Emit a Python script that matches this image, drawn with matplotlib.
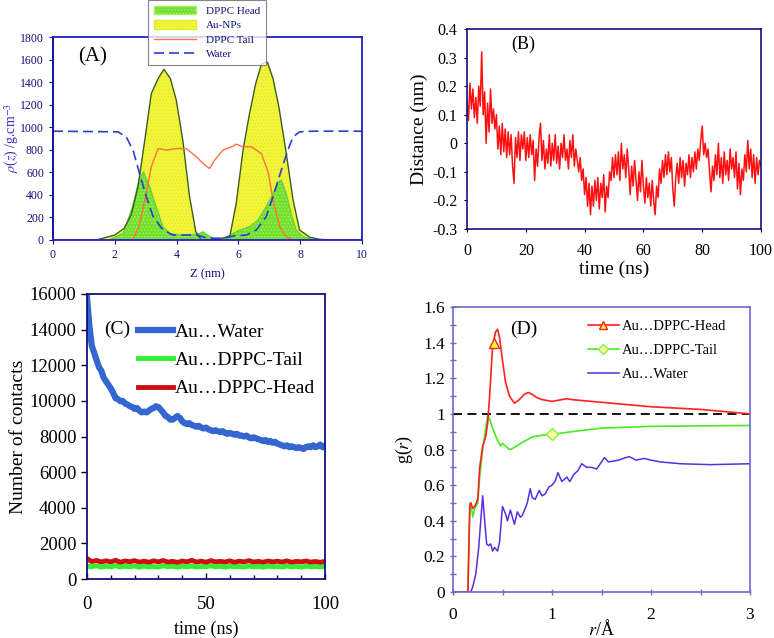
import numpy as np
import matplotlib.pyplot as plt
from matplotlib.patches import Patch
from matplotlib.lines import Line2D

plt.rcParams['font.family'] = ['Liberation Serif', 'DejaVu Serif']
plt.rcParams['mathtext.fontset'] = 'stix'
plt.rcParams['hatch.linewidth'] = 0.6

# ---------------- (A) density profiles ----------------
z_au = [0, 1.4, 2.0, 2.3, 2.53, 2.75, 2.97, 3.18, 3.4, 3.59, 3.8, 3.99, 4.2, 4.42, 4.62, 4.8,
        5.2, 5.72, 5.93, 6.15, 6.36, 6.56, 6.75, 6.94, 7.12, 7.31, 7.55, 7.77, 7.98, 8.31, 8.63, 9.0, 10]
rho_au = [0, 0, 44, 103, 221, 472, 885, 1298, 1431, 1514, 1431, 1239, 885, 384, 74, 0,
          0, 30, 325, 797, 1121, 1387, 1564, 1576, 1431, 1180, 767, 354, 89, 24, 6, 0, 0]

z_head = [0, 1.8, 2.27, 2.57, 2.78, 2.93, 3.13, 3.34, 3.56, 3.78, 4.1, 4.42, 4.75, 4.85, 5.0,
          5.2, 5.5, 5.72, 6.04, 6.36, 6.63, 6.9, 7.12, 7.28, 7.39, 7.55, 7.71, 7.87, 8.09, 8.4, 8.8, 10]
rho_head = [0, 0, 59, 295, 531, 605, 472, 295, 118, 59, 44, 44, 59, 74, 44,
            15, 15, 44, 89, 118, 177, 295, 413, 516, 531, 413, 236, 89, 30, 6, 0, 0]

z_tail = [0, 2.4, 2.59, 2.78, 3.02, 3.18, 3.4, 3.67, 3.99, 4.31, 4.64, 4.91, 5.07, 5.23, 5.5,
          5.83, 5.93, 6.15, 6.42, 6.74, 6.96, 7.12, 7.34, 7.55, 7.77, 10]
rho_tail = [0, 0, 5, 118, 413, 649, 811, 797, 811, 811, 738, 664, 634, 708, 797,
            832, 850, 826, 826, 767, 605, 354, 118, 30, 0, 0]

z_wat = [0, 2.1, 2.37, 2.59, 2.8, 3.02, 3.24, 3.56, 3.88, 4.31, 4.64, 4.91, 5.18, 5.5, 5.83,
         6.26, 6.58, 6.9, 7.12, 7.39, 7.6, 7.77, 7.98, 8.41, 10]
rho_wat = [965, 959, 915, 797, 590, 384, 207, 89, 44, 44, 44, 24, 15, 15, 35,
           44, 89, 207, 384, 620, 797, 915, 959, 965, 965]

# ---------------- (B) distance vs time ----------------
dist = [0.15, 0.08, 0.21, 0.12, 0.19, 0.09, 0.16, 0.07, 0.20, 0.13,
        0.32, 0.10, 0.18, 0.00, 0.14, 0.04, 0.19, 0.07, 0.12, 0.05,
        0.10, -0.02, 0.06, -0.04, 0.07, -0.03, 0.05, -0.05, 0.04, -0.04,
        0.03, -0.08, -0.14, 0.02, -0.05, 0.04, -0.06, 0.03, -0.02, 0.04,
        -0.06, 0.02, -0.05, 0.03, -0.04, 0.01, -0.13, -0.02, -0.08, 0.02,
        0.07, -0.06, 0.01, -0.09, -0.02, -0.07, 0.03, -0.08, 0.00, -0.06,
        0.03, -0.07, -0.01, -0.09, 0.00, -0.05, 0.03, -0.06, -0.02, -0.09,
        0.01, -0.05, 0.03, -0.08, -0.02, -0.06, -0.10, -0.05, -0.13, -0.09,
        -0.18, -0.12, -0.22, -0.14, -0.25, -0.15, -0.22, -0.13, -0.20, -0.12,
        -0.23, -0.14, -0.19, -0.11, -0.24, -0.15, -0.19, -0.10, -0.13, -0.05,
        -0.12, -0.04, -0.11, -0.03, -0.13, 0.00, -0.09, -0.04, -0.12, -0.02,
        -0.09, -0.18, -0.08, -0.15, -0.06, -0.13, -0.20, -0.10, -0.17, -0.06,
        -0.15, -0.21, -0.12, -0.19, -0.14, -0.22, -0.13, -0.20, -0.25, -0.15,
        -0.19, -0.09, -0.14, -0.06, -0.12, -0.04, -0.11, -0.03, -0.10, -0.05,
        -0.16, -0.22, -0.12, -0.07, -0.14, -0.05, -0.12, -0.06, -0.15, -0.07,
        -0.11, -0.04, -0.12, -0.05, -0.10, -0.03, -0.09, -0.02, -0.06, 0.01,
        0.06, -0.04, 0.00, -0.05, -0.02, -0.10, -0.17, -0.08, -0.13, -0.04,
        -0.11, 0.00, -0.12, -0.05, -0.14, -0.03, -0.11, -0.06, -0.13, -0.02,
        -0.09, -0.05, -0.12, -0.03, -0.16, -0.07, -0.18, -0.09, -0.13, -0.04,
        -0.10, 0.01, -0.09, -0.02, -0.12, -0.04, -0.14, -0.05, -0.11, -0.06,
        -0.08]
t_dist = np.linspace(0, 100, len(dist))

# ---------------- (C) number of contacts ----------------
n_water = [15800, 14200, 13100, 12700, 12300, 11900, 11700, 11300, 11100, 10900,
           10700, 10450, 10150, 10100, 9980, 10000, 9850, 9800, 9700, 9650,
           9550, 9600, 9450, 9350, 9400, 9350, 9450, 9550, 9600, 9700,
           9650, 9500, 9350, 9150, 9100, 8950, 8950, 9050, 9150, 9050,
           8850, 8750, 8700, 8750, 8650, 8600, 8550, 8600, 8500, 8450,
           8500, 8400, 8350, 8300, 8350, 8300, 8250, 8300, 8200, 8150,
           8200, 8150, 8100, 8150, 8050, 8050, 8000, 8050, 7950, 7900,
           7950, 7900, 7850, 7800, 7750, 7800, 7700, 7750, 7650, 7700,
           7600, 7550, 7500, 7450, 7500, 7400, 7450, 7400, 7350, 7400,
           7350, 7300, 7400, 7450, 7400, 7500, 7400, 7450, 7550, 7400,
           7450]
t_water = np.linspace(0, 100, len(n_water))

n_head = [1150, 980, 1040, 950, 1020, 960, 1050, 940, 1010, 970,
          1030, 950, 1000, 940, 1020, 960, 1040, 950, 990, 930,
          1010, 960, 1050, 950, 1000, 940, 1030, 960, 990, 950,
          1020, 940, 1000, 960, 1030, 950, 990, 940, 1010, 960,
          1000, 950, 1020, 940, 990, 960, 1010, 950, 980, 940,
          990]
n_tail = [720, 690, 740, 660, 720, 680, 750, 670, 710, 690,
          730, 660, 720, 680, 700, 670, 740, 690, 710, 660,
          720, 680, 730, 670, 700, 690, 740, 680, 710, 660,
          720, 690, 700, 670, 730, 680, 710, 660, 720, 690,
          700, 670, 730, 680, 710, 660, 720, 690, 700, 680,
          710]
t_small = np.linspace(0, 100, len(n_head))

# ---------------- (D) radial distribution ----------------
r_head = [0, 0.15, 0.17, 0.18, 0.2, 0.22, 0.25, 0.27, 0.3, 0.33, 0.35, 0.37, 0.4, 0.43, 0.45,
          0.47, 0.5, 0.53, 0.57, 0.62, 0.67, 0.72, 0.76, 0.8, 0.85, 0.9, 1.0, 1.1, 1.15,
          1.2, 1.5, 2.0, 2.5, 3.0]
g_head = [0, 0, 0.48, 0.5, 0.47, 0.48, 0.52, 0.7, 0.82, 0.87, 0.95, 1.1, 1.38, 1.46, 1.475,
          1.43, 1.3, 1.18, 1.1, 1.06, 1.08, 1.11, 1.12, 1.11, 1.09, 1.08, 1.07, 1.08, 1.085,
          1.08, 1.065, 1.04, 1.025, 1.0]

r_tail = [0, 0.15, 0.17, 0.18, 0.2, 0.22, 0.25, 0.27, 0.3, 0.32, 0.35, 0.37, 0.4, 0.45,
          0.48, 0.5, 0.53, 0.57, 0.6, 0.7, 0.8, 0.9, 1.0, 1.2, 1.5, 2.0, 3.0]
g_tail = [0, 0, 0.5, 0.5, 0.42, 0.47, 0.5, 0.65, 0.8, 0.88, 0.99, 0.97, 0.92, 0.85,
          0.82, 0.835, 0.82, 0.80, 0.805, 0.84, 0.87, 0.88, 0.885, 0.9, 0.92, 0.93, 0.935]

r_wat = [0, 0.18, 0.2, 0.23, 0.26, 0.28, 0.3, 0.32, 0.34, 0.36, 0.38, 0.4, 0.42, 0.45, 0.47,
         0.5, 0.53, 0.55, 0.58, 0.6, 0.62, 0.65, 0.68, 0.7, 0.73, 0.75, 0.78, 0.8, 0.83,
         0.87, 0.9, 0.93, 0.97, 1.0, 1.03, 1.06, 1.1, 1.15, 1.18, 1.22, 1.26, 1.3, 1.35,
         1.4, 1.45, 1.5, 1.53, 1.57, 1.62, 1.67, 1.72, 1.78, 1.85, 1.93, 2.0, 2.1, 2.3,
         2.6, 3.0]
g_wat = [0, 0, 0.03, 0.1, 0.25, 0.4, 0.54, 0.4, 0.27, 0.26, 0.27, 0.23, 0.25, 0.23, 0.28,
         0.48, 0.44, 0.40, 0.46, 0.42, 0.38, 0.45, 0.42, 0.43, 0.47, 0.50, 0.58, 0.53, 0.52,
         0.57, 0.54, 0.55, 0.59, 0.60, 0.62, 0.67, 0.62, 0.645, 0.62, 0.66, 0.68, 0.72, 0.70,
         0.70, 0.69, 0.73, 0.755, 0.73, 0.735, 0.74, 0.75, 0.76, 0.74, 0.75, 0.74, 0.73, 0.72,
         0.715, 0.72]

W, H = 774, 638
fig = plt.figure(figsize=(W / 100, H / 100), dpi=100)


def box(l, r, t, b):
    return [l / W, 1 - b / H, (r - l) / W, (b - t) / H]


navy = '#10107a'

# ---- panel A ----
axA = fig.add_axes(box(53, 362, 37, 240))
axA.fill_between(z_au, rho_au, color='#f4f43a', hatch='.....', edgecolor='#d8ec30', linewidth=0)
axA.fill_between(z_head, rho_head, color='#72e030', hatch='.....', edgecolor='#a8f060', linewidth=0)
axA.plot(z_head, rho_head, color='#66cc44', lw=0.8)
axA.plot(z_au, rho_au, color='#3a6020', lw=1.0)
axA.plot(z_tail, rho_tail, color='#ff7040', lw=1.0)
axA.plot(z_wat, rho_wat, color='#2a3fd0', lw=1.2, dashes=(6, 3))
axA.set_xlim(0, 10)
axA.set_ylim(0, 1800)
axA.set_xticks(range(0, 11, 2))
axA.set_yticks(range(0, 1801, 200))
axA.tick_params(labelsize=8.5, colors=navy, direction='out', length=3, width=0.8)
for s in axA.spines.values():
    s.set_color('#2020c8')
    s.set_linewidth(1.3)
axA.spines['left'].set_color('#000090')
axA.set_ylabel(r'$\rho$($z$) /g.cm$^{-3}$', color='#3030c0', fontsize=10, labelpad=-1)
axA.set_xlabel('Z (nm)', color=navy, fontsize=9, labelpad=5)
axA.text(0.8, 1580, '(A)', fontsize=15)
legA = [Patch(facecolor='#72e030', hatch='.....', edgecolor='#a8f060', label='DPPC Head'),
        Patch(facecolor='#f4f43a', hatch='.....', edgecolor='#d8ec30', label='Au-NPs'),
        Line2D([], [], color='#ff7040', lw=1.0, label='DPPC Tail'),
        Line2D([], [], color='#2a3fd0', lw=1.2, dashes=(6, 3), label='Water')]
lg = fig.legend(handles=legA, loc='upper left', bbox_to_anchor=(148 / W, 1.0), fontsize=8,
                frameon=True, fancybox=False, edgecolor='#666666', handlelength=3.8,
                handleheight=0.8, labelspacing=0.4, borderpad=0.5, handletextpad=0.9,
                borderaxespad=0, labelcolor=navy)
lg.get_frame().set_linewidth(0.8)

# ---- panel B ----
axB = fig.add_axes(box(467, 761, 29, 229))
axB.plot(t_dist, dist, color='#ff1010', lw=1.1)
axB.set_xlim(0, 100)
axB.set_ylim(-0.3, 0.4)
axB.set_xticks(range(0, 101, 20))
axB.set_yticks(np.arange(-0.3, 0.41, 0.1))
axB.set_yticklabels(['-0.3', '-0.2', '-0.1', '0', '0.1', '0.2', '0.3', '0.4'])
axB.tick_params(labelsize=11.5, direction='out', length=2, width=0.8, pad=5)
axB.tick_params(axis='x', pad=8)
for s in axB.spines.values():
    s.set_color('#101080')
    s.set_linewidth(1.2)
axB.set_ylabel('Distance (nm)', fontsize=14, labelpad=3)
axB.set_xlabel('time (ns)', fontsize=14, labelpad=1)
axB.text(15, 0.33, '(B)', fontsize=13)

# ---- panel C ----
axC = fig.add_axes(box(87, 325, 294, 579))
axC.plot(t_water, n_water, color='#3366d0', lw=4.5, label='Au\u2026Water')
axC.plot(t_small, n_tail, color='#33ee33', lw=3.5, label='Au\u2026DPPC-Tail')
axC.plot(t_small, n_head, color='#cc1010', lw=3.5, label='Au\u2026DPPC-Head')
axC.set_xlim(0, 100)
axC.set_ylim(0, 16000)
axC.set_xticks([0, 50, 100])
axC.set_xticks(range(0, 101, 10), minor=True)
axC.set_yticks(range(0, 16001, 2000))
axC.tick_params(axis='x', which='both', direction='in', length=4, width=1, labelsize=13.5, pad=12)
axC.tick_params(axis='y', direction='out', length=4, width=1, labelsize=13.5)
axC.tick_params(axis='x', which='minor', length=3)
for s in axC.spines.values():
    s.set_color('#101080')
    s.set_linewidth(1.3)
axC.set_ylabel('Number of contacts', fontsize=14, labelpad=2)
axC.set_xlabel('time (ns)', fontsize=13, labelpad=6)
axC.text(7, 14000, '(C)', fontsize=14, va='center')
axC.legend(loc='upper left', bbox_to_anchor=(0.18, 0.925), fontsize=14, frameon=False,
           handlelength=1.8, handletextpad=0.1, labelspacing=0.55, borderaxespad=0)

# ---- panel D ----
axD = fig.add_axes(box(453, 750, 307, 592))
axD.axhline(1.0, color='black', lw=1.3, dashes=(5, 3))
axD.plot(r_wat, g_wat, color='#5a2ee0', lw=1.1)
axD.plot(r_tail, g_tail, color='#44ee22', lw=1.2)
axD.plot(r_head, g_head, color='#ff2020', lw=1.2)
axD.plot([0.41], [1.40], marker='^', ms=7, mfc='#ffff30', mec='#ff2020', ls='none')
axD.plot([1.0], [0.885], marker='D', ms=6, mfc='#ffffa0', mec='#88ee44', ls='none')
axD.set_xlim(0, 3)
axD.set_ylim(0, 1.6)
axD.set_xticks([0, 1, 2, 3])
axD.set_xticks(np.arange(0, 3.01, 0.5), minor=True)
axD.set_yticks(np.arange(0, 1.61, 0.2))
axD.set_yticklabels(['0', '0.2', '0.4', '0.6', '0.8', '1', '1.2', '1.4', '1.6'])
axD.set_yticks(np.arange(0, 1.61, 0.1), minor=True)
axD.tick_params(axis='both', which='both', direction='inout', length=4, width=1, colors='#6a6ad0',
                labelcolor='black', labelsize=12.5)
axD.tick_params(axis='x', pad=9)
for s in axD.spines.values():
    s.set_color('#6a6ad0')
    s.set_linewidth(1.2)
axD.set_ylabel(r'g($r$)', fontsize=13, labelpad=6)
axD.set_xlabel(r'$r$/Å', fontsize=13, labelpad=-3)
axD.text(0.58, 1.45, '(D)', fontsize=14)
legD = [Line2D([], [], color='#ff2020', lw=1.2, marker='^', ms=6, mfc='#ffff30', mec='#ff2020',
               label='Au\u2026DPPC-Head'),
        Line2D([], [], color='#44ee22', lw=1.2, marker='D', ms=5, mfc='#ffffa0', mec='#88ee44',
               label='Au\u2026DPPC-Tail'),
        Line2D([], [], color='#5a2ee0', lw=1.1, label='Au\u2026Water')]
axD.legend(handles=legD, loc='upper left', bbox_to_anchor=(0.435, 0.975), fontsize=10.5,
           frameon=False, handlelength=2.1, handletextpad=0.25, labelspacing=0.75, borderaxespad=0)

fig.savefig('out.png', dpi=100)
